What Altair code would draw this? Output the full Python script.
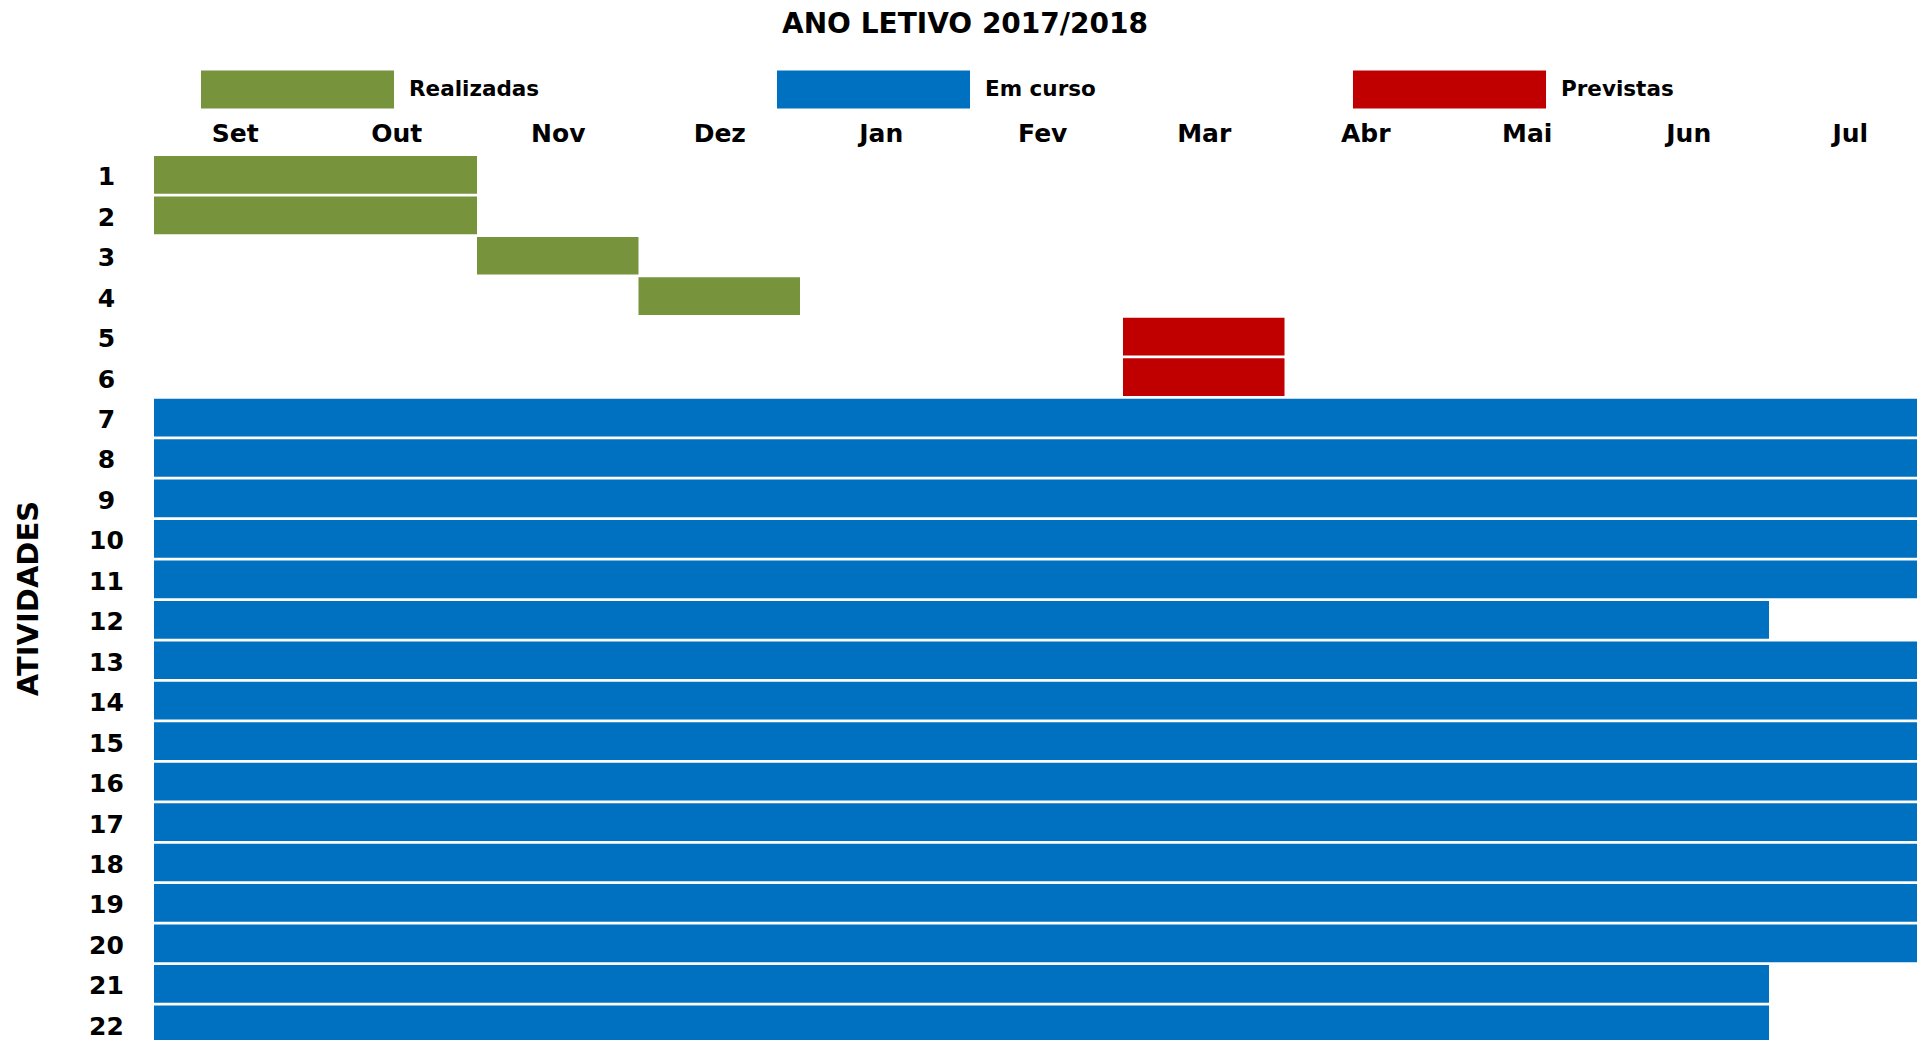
import altair as alt
import pandas as pd

# ---- data ----
months = ["Set", "Out", "Nov", "Dez", "Jan", "Fev", "Mar", "Abr", "Mai", "Jun", "Jul"]
activities = list(range(1, 23))
start_month = ["Set", "Set", "Nov", "Dez", "Mar", "Mar"] + ["Set"] * 16
end_month = ["Out", "Out", "Nov", "Dez", "Mar", "Mar",
             "Jul", "Jul", "Jul", "Jul", "Jul", "Jun", "Jul", "Jul", "Jul", "Jul",
             "Jul", "Jul", "Jul", "Jul", "Jun", "Jun"]
status = ["Realizadas"] * 4 + ["Previstas"] * 2 + ["Em curso"] * 16

status_order = ["Realizadas", "Em curso", "Previstas"]
status_colors = ["#77933C", "#0070C0", "#C00000"]

# ---- layout constants ----
FONT = "DejaVu Sans"
MONTH_PX = 161.5
ROW_PX = 40.45
BAR_FRAC = 0.932
PLOT_W = 1763
PLOT_H = 884

df = pd.DataFrame({
    "atividade": activities,
    "inicio": [months.index(m) for m in start_month],
    "fim": [months.index(m) + 1 for m in end_month],
    "status": status,
})
df["y0"] = df["atividade"] - 1
df["y1"] = df["atividade"] - 1 + BAR_FRAC

month_expr = "[" + ",".join(f"'{m}'" for m in months) + "][floor(datum.value)]"

bars = alt.Chart(df).mark_rect(clip=True, strokeWidth=0).encode(
    x=alt.X("inicio:Q",
            scale=alt.Scale(domain=[0, PLOT_W / MONTH_PX], nice=False, zero=False),
            axis=alt.Axis(orient="top", title=None,
                          values=[i + 0.5 for i in range(len(months))],
                          labelExpr=month_expr,
                          domain=False, ticks=False, tickSize=0, grid=False,
                          labelFlush=False, labelOverlap=False, labelBound=False,
                          labelPadding=15, labelBaseline="alphabetic",
                          labelFont=FONT, labelFontSize=25, labelFontWeight="bold",
                          labelColor="black")),
    x2="fim:Q",
    y=alt.Y("y0:Q",
            scale=alt.Scale(domain=[0, PLOT_H / ROW_PX], nice=False, zero=False, reverse=True),
            axis=alt.Axis(title="ATIVIDADES",
                          values=[i + BAR_FRAC / 2 for i in range(len(activities))],
                          labelExpr="floor(datum.value) + 1",
                          domain=False, ticks=False, tickSize=0, grid=False,
                          labelOverlap=False, labelBound=False, labelFlush=False,
                          labelPadding=48, labelAlign="center", labelBaseline="middle",
                          labelOffset=2,
                          labelFont=FONT, labelFontSize=25, labelFontWeight="bold",
                          labelColor="black",
                          titleFont=FONT, titleFontSize=29, titleFontWeight="bold",
                          titleColor="black", titleX=-126, titleBaseline="middle")),
    y2="y1:Q",
    color=alt.Color("status:N",
                    scale=alt.Scale(domain=status_order, range=status_colors),
                    legend=alt.Legend(title=None, orient="none", legendX=47, legendY=-85.5,
                                      direction="horizontal", columns=3, gridAlign="all",
                                      columnPadding=236, padding=0,
                                      symbolType="M-5.08,-1H5.08V1H-5.08Z",
                                      symbolSize=1444, symbolStrokeWidth=0,
                                      symbolOffset=77.5, symbolOpacity=1,
                                      labelOffset=92.5, labelFont=FONT, labelFontSize=21.5,
                                      labelFontWeight="bold", labelColor="black",
                                      labelBaseline="middle", labelLimit=0)),
)

chart = bars.properties(
    width=PLOT_W,
    height=PLOT_H,
    autosize="none",
    padding={"left": 146, "top": 148, "right": 0, "bottom": 0},
    title=alt.Title("ANO LETIVO 2017/2018", font=FONT, fontSize=28, fontWeight="bold",
                    color="black", anchor="middle", dx=-70.5, offset=9.5,
                    baseline="alphabetic"),
).configure_view(stroke=None)

chart.save("out.html", embed_options={"renderer": "svg", "actions": False})
